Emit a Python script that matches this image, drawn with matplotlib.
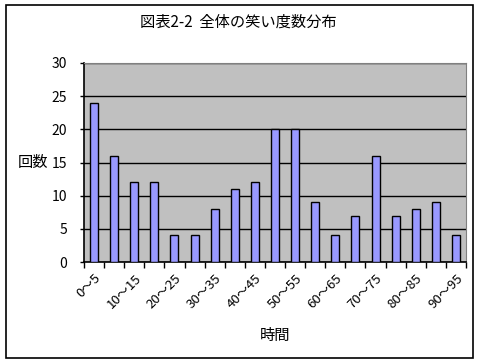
import numpy as np
import matplotlib
matplotlib.use("Agg")
import matplotlib.pyplot as plt
from matplotlib.patches import Rectangle

plt.rcParams['font.family'] = ['Noto Sans CJK JP', 'DejaVu Sans']

# データ
categories = ["0～5", "5～10", "10～15", "15～20", "20～25", "25～30", "30～35",
              "35～40", "40～45", "45～50", "50～55", "55～60", "60～65", "65～70",
              "70～75", "75～80", "80～85", "85～90", "90～95"]
counts = [24, 16, 12, 12, 4, 4, 8, 11, 12, 20, 20, 9, 4, 7, 16, 7, 8, 9, 4]
y_ticks = [0, 5, 10, 15, 20, 25, 30]

fig = plt.figure(figsize=(4.8, 3.63), dpi=100)
fig.patch.set_facecolor("white")
ax = fig.add_axes([84/480, 1-262/363, 382/480, 199/363])

x = np.arange(len(categories))
ax.set_facecolor("#C0C0C0")
ax.bar(x, counts, width=0.4, color="#9999FF", edgecolor="black", linewidth=1.0, zorder=3)

# グリッド線
ax.set_ylim(0, 30)
ax.set_yticks(y_ticks)
ax.yaxis.grid(True, color="black", linewidth=1.0, zorder=1)
ax.set_axisbelow(True)
ax.tick_params(axis="y", direction="out", length=3, width=1, labelsize=10, pad=9)

ax.set_xlim(-0.5, len(categories) - 0.5)
ax.set_xticks(x[::2])
ax.set_xticklabels(categories[::2], rotation=45, ha="right", rotation_mode="anchor", fontsize=9.5)
ax.set_xticks(np.arange(-0.5, len(categories)), minor=True)
ax.tick_params(axis="x", which="major", length=0, pad=7)
ax.tick_params(axis="x", which="minor", direction="out", length=4, width=1)

for s in ["top", "right"]:
    ax.spines[s].set_color("#808080")
for s in ["left", "bottom"]:
    ax.spines[s].set_color("black")
    ax.spines[s].set_linewidth(1.2)

fig.text(238/480, 1-22/363, "図表2-2  全体の笑い度数分布", ha="center", va="center", fontsize=11)
fig.text(33/480, 1-163/363, "回数", ha="center", va="center", fontsize=11)
fig.text(275/480, 1-335/363, "時間", ha="center", va="center", fontsize=11)

# 外枠
fig.patches.append(Rectangle((6/480, 1-358/363), 467/480, 353/363, transform=fig.transFigure,
                             fill=False, edgecolor="black", linewidth=1.2))

fig.savefig("out.png", dpi=100)
